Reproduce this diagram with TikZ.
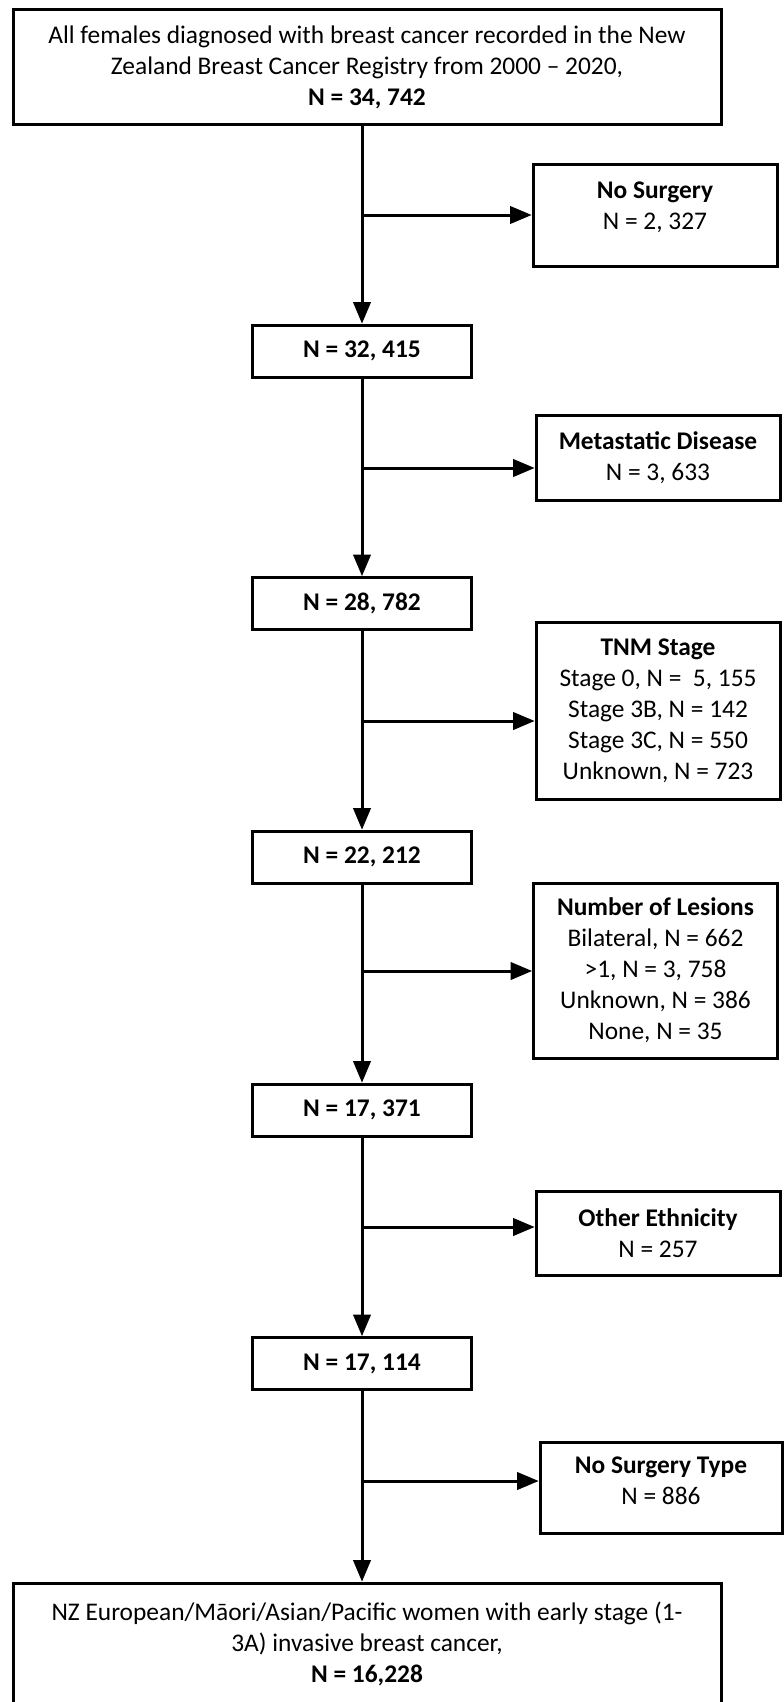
\documentclass[tikz,border=0pt]{standalone}
\usepackage{fontspec}
\setmainfont{Carlito}
\usetikzlibrary{arrows}

\begin{document}
\begin{tikzpicture}[line join=miter,>=triangle 45,x=0.5pt,y=-0.5pt,
  box/.style={draw=black,line width=1.5pt,align=center,inner sep=0pt,font=\fontsize{12.7}{15.5}\selectfont},
  wide/.style={box,minimum width=354pt},
  count/.style={box,minimum width=109.5pt,minimum height=26pt},
  side/.style={box,minimum width=122pt},
  flow/.style={->,line width=1.5pt}]
\useasboundingbox (0,0) rectangle (783,1702);
\node[wide,minimum height=57.5pt] (all) at (367,67.5) {All females diagnosed with breast cancer recorded in the New\\Zealand Breast Cancer Registry from 2000 -- 2020,\\\textbf{N = 34, 742}};
\node[side,minimum height=51pt,text depth=9pt] (nosurg) at (655,215) {\textbf{No Surgery}\\N = 2, 327};
\node[count] (n1) at (362,351) {\textbf{N = 32, 415}};
\node[side,minimum height=42.5pt] (meta) at (658,457.5) {\textbf{Metastatic Disease}\\N = 3, 633};
\node[count] (n2) at (362,603.5) {\textbf{N = 28, 782}};
\node[side,minimum height=88.5pt] (tnm) at (658,710.5) {\textbf{TNM Stage}\\Stage 0, N =\ \ 5, 155\\Stage 3B, N = 142\\Stage 3C, N = 550\\Unknown, N = 723};
\node[count] (n3) at (362,857) {\textbf{N = 22, 212}};
\node[side,minimum height=87.5pt] (lesions) at (655.5,970.5) {\textbf{Number of Lesions}\\Bilateral, N = 662\\>1, N = 3, 758\\Unknown, N = 386\\None, N = 35};
\node[count] (n4) at (362,1110) {\textbf{N = 17, 371}};
\node[side,minimum height=42pt] (ethnic) at (658,1233) {\textbf{Other Ethnicity}\\N = 257};
\node[count] (n5) at (362,1363.5) {\textbf{N = 17, 114}};
\node[side,minimum height=45.5pt,minimum width=121pt,text depth=7pt] (surgtype) at (661,1487.5) {\textbf{No Surgery Type}\\N = 886};
\node[wide,minimum height=61pt] (final) at (367,1644) {NZ European/Māori/Asian/Pacific women with early stage (1-\\3A) invasive breast cancer,\\\textbf{N = 16,228}};
\coordinate (b1) at (362,215);
\coordinate (b2) at (362,468);
\coordinate (b3) at (362,721);
\coordinate (b4) at (362,971);
\coordinate (b5) at (362,1227);
\coordinate (b6) at (362,1481);
\draw[flow] (all.south -| n1.north) -- (n1.north);
\draw[flow] (n1) -- (n2);
\draw[flow] (n2) -- (n3);
\draw[flow] (n3) -- (n4);
\draw[flow] (n4) -- (n5);
\draw[flow] (n5.south) -- (n5.south |- final.north);
\draw[flow] (b1) -- (b1 -| nosurg.west);
\draw[flow] (b2) -- (b2 -| meta.west);
\draw[flow] (b3) -- (b3 -| tnm.west);
\draw[flow] (b4) -- (b4 -| lesions.west);
\draw[flow] (b5) -- (b5 -| ethnic.west);
\draw[flow] (b6) -- (b6 -| surgtype.west);
\end{tikzpicture}
\end{document}
